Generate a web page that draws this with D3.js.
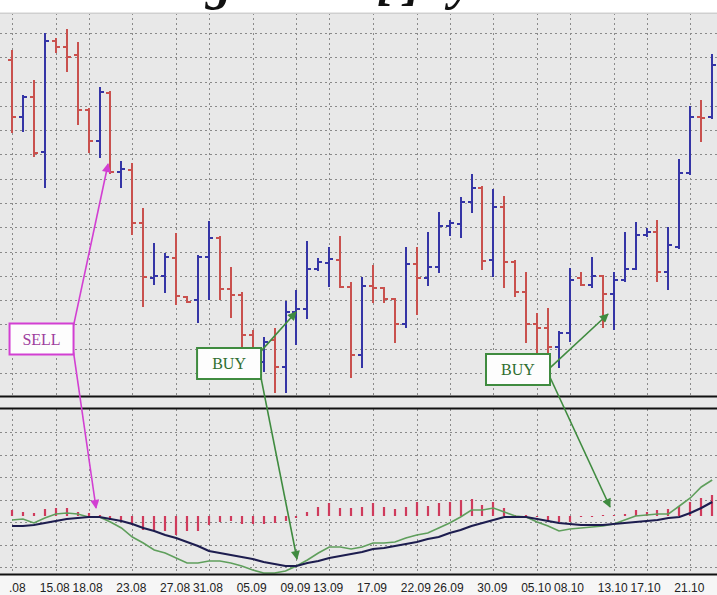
<!DOCTYPE html>
<html>
<head>
<meta charset="utf-8">
<script src="https://cdn.jsdelivr.net/npm/d3@7"></script>
<style>
  html, body { margin: 0; padding: 0; background: #fff; }
  svg { display: block; }
</style>
</head>
<body>
<div id="chart"></div>
<script>
// Daily bar chart with MACD-style indicator and SELL / BUY signals
const width = 717;
const height = 595;

// OHLC, one value per trading day
const opens  = [1.4446, 1.4332, 1.4372, 1.4262, 1.4484, 1.4472, 1.4456, 1.4346, 1.4284, 1.4380,
                1.4222, 1.4226, 1.4120, 1.4010, 1.4014, 1.4050, 1.3972, 1.3966, 1.4052, 1.4090,
                1.3988, 1.3976, 1.3896, 1.3842, 1.3886, 1.3832, 1.3942, 1.3948, 1.4028, 1.4040,
                1.4046, 1.3992, 1.3856, 1.3994, 1.3990, 1.3968, 1.3918, 1.4038, 1.4010, 1.4032,
                1.4114, 1.4118, 1.4162, 1.4190, 1.4046, 1.4152, 1.4042, 1.3982, 1.3918, 1.3910,
                1.3872, 1.3900, 1.4010, 1.3996, 1.4014, 1.3978, 1.4006, 1.4028, 1.4096, 1.4102,
                1.4022, 1.4072, 1.4220, 1.4332, 1.4332];
const highs  = [1.4466, 1.4376, 1.4406, 1.4500, 1.4490, 1.4508, 1.4482, 1.4350, 1.4392, 1.4384,
                1.4244, 1.4240, 1.4150, 1.4080, 1.4060, 1.4100, 1.3974, 1.4056, 1.4124, 1.4094,
                1.4032, 1.3982, 1.3906, 1.3892, 1.3910, 1.3964, 1.3986, 1.4084, 1.4050, 1.4072,
                1.4094, 1.4002, 1.4012, 1.4036, 1.3992, 1.3970, 1.4072, 1.4072, 1.4102, 1.4142,
                1.4126, 1.4172, 1.4218, 1.4194, 1.4188, 1.4174, 1.4046, 1.4022, 1.3940, 1.3950,
                1.3904, 1.4030, 1.4022, 1.4052, 1.4016, 1.4022, 1.4102, 1.4122, 1.4110, 1.4126,
                1.4112, 1.4248, 1.4354, 1.4366, 1.4458];
const lows   = [1.4300, 1.4302, 1.4252, 1.4190, 1.4460, 1.4422, 1.4316, 1.4260, 1.4250, 1.4218,
                1.4190, 1.4096, 1.3952, 1.3996, 1.3980, 1.3956, 1.3960, 1.3920, 1.3966, 1.3966,
                1.3930, 1.3872, 1.3822, 1.3822, 1.3780, 1.3780, 1.3876, 1.3928, 1.4024, 1.3992,
                1.3990, 1.3810, 1.3830, 1.3960, 1.3960, 1.3880, 1.3910, 1.3936, 1.3994, 1.4020,
                1.4094, 1.4090, 1.4140, 1.4026, 1.4012, 1.3990, 1.3972, 1.3880, 1.3860, 1.3852,
                1.3830, 1.3882, 1.3994, 1.3990, 1.3910, 1.3906, 1.4002, 1.4026, 1.4092, 1.4002,
                1.3986, 1.4068, 1.4216, 1.4282, 1.4328];
const closes = [1.4332, 1.4372, 1.4260, 1.4484, 1.4472, 1.4452, 1.4346, 1.4284, 1.4382, 1.4222,
                1.4228, 1.4120, 1.4012, 1.4014, 1.4052, 1.3974, 1.3962, 1.4052, 1.4090, 1.3988,
                1.3976, 1.3896, 1.3866, 1.3882, 1.3832, 1.3942, 1.3948, 1.4028, 1.4042, 1.4048,
                1.3992, 1.3856, 1.3994, 1.3990, 1.3968, 1.3918, 1.4038, 1.4010, 1.4032, 1.4114,
                1.4120, 1.4162, 1.4190, 1.4044, 1.4152, 1.4042, 1.3982, 1.3918, 1.3910, 1.3872,
                1.3900, 1.4006, 1.3996, 1.4014, 1.3978, 1.4006, 1.4028, 1.4096, 1.4102, 1.4022,
                1.4076, 1.4220, 1.4332, 1.4330, 1.4436];

// indicator panel: histogram, slow (navy) and fast (green) lines
const histogram = [0.0006, 0.0004, 0.0003, 0.0007, 0.0008, 0.0008, 0.0004, 0.0003, 0.0001, -0.0004,
                   -0.0006, -0.0009, -0.0014, -0.0015, -0.0015, -0.0019, -0.0015, -0.0015, -0.0009, -0.0006,
                   -0.0005, -0.0008, -0.0008, -0.0008, -0.0007, -0.0005, -0.0002, 0.0004, 0.0009, 0.0013,
                   0.0008, 0.0008, 0.0009, 0.0013, 0.0009, 0.0007, 0.0009, 0.0014, 0.0010, 0.0013,
                   0.0014, 0.0016, 0.0017, 0.0011, 0.0014, 0.0008, 0.0001, 0.0001, -0.0001, -0.0005,
                   -0.0006, -0.0006, -0.0001, -0.0001, 0.0001, 0.0001, 0.0002, 0.0006, 0.0004, 0.0006,
                   0.0007, 0.0010, 0.0014, 0.0018, 0.0021];
const slowLine  = [-0.0010, -0.0010, -0.0009, -0.0007, -0.0005, -0.0003, -0.0002, -0.0001, -0.0001, -0.0003,
                   -0.0005, -0.0008, -0.0012, -0.0015, -0.0019, -0.0022, -0.0026, -0.0030, -0.0035, -0.0037,
                   -0.0039, -0.0041, -0.0043, -0.0046, -0.0048, -0.0050, -0.0050, -0.0047, -0.0045, -0.0042,
                   -0.0040, -0.0038, -0.0036, -0.0033, -0.0032, -0.0030, -0.0028, -0.0026, -0.0023, -0.0021,
                   -0.0017, -0.0014, -0.0010, -0.0007, -0.0004, -0.0001, -0.0001, -0.0001, -0.0003, -0.0005,
                   -0.0007, -0.0008, -0.0009, -0.0009, -0.0009, -0.0008, -0.0007, -0.0006, -0.0005, -0.0004,
                   -0.0002, -0.0001, 0.0003, 0.0008, 0.0014];
const fastLine  = [-0.0004, -0.0003, -0.0007, -0.0002, 0.0002, 0.0003, 0.0002, -0.0001, -0.0001, -0.0006,
                   -0.0012, -0.0021, -0.0027, -0.0034, -0.0037, -0.0042, -0.0047, -0.0047, -0.0045, -0.0045,
                   -0.0047, -0.0050, -0.0054, -0.0057, -0.0057, -0.0055, -0.0050, -0.0044, -0.0037, -0.0031,
                   -0.0031, -0.0033, -0.0031, -0.0027, -0.0027, -0.0026, -0.0022, -0.0019, -0.0017, -0.0012,
                   -0.0007, -0.0001, 0.0006, 0.0006, 0.0008, 0.0004, 0.0000, -0.0001, -0.0006, -0.0010,
                   -0.0015, -0.0013, -0.0012, -0.0011, -0.0010, -0.0008, -0.0004, 0.0000, 0.0001, 0.0002,
                   0.0002, 0.0010, 0.0018, 0.0029, 0.0036];

// date labels and the bar they sit on
const labelIdx  = [0, 4, 7, 11, 15, 18, 22, 26, 29, 33, 37, 40, 44, 48, 51, 55, 58, 62];
const labelText = ['11.08', '15.08', '18.08', '23.08', '27.08', '31.08', '05.09', '09.09', '13.09',
                   '17.09', '22.09', '26.09', '30.09', '05.10', '08.10', '13.10', '17.10', '21.10'];

// signals: box anchor and the two arrow tips (price panel, indicator panel)
const signalText      = ['SELL', 'BUY', 'BUY'];
const signalBoxIdx    = [2.7, 19.84, 46.25];
const signalBoxPrice  = [1.3888, 1.3839, 1.3827];
const signalPriceIdx  = [8.78, 25.96, 54.48];
const signalPriceTip  = [1.4238, 1.3942, 1.3938];
const signalMacdIdx   = [7.68, 26.05, 54.66];
const signalMacdTip   = [0.0008, -0.0043, 0.0009];

const n = opens.length;
const colors = { up: '#3535a6', down: '#c9514e', hist: '#cf3b5c', slow: '#1d1d4f', fast: '#5f9f5c',
                 sell: '#d23fd2', sellText: '#9e3d9e', buy: '#3f8b3f', buyText: '#2f6e2f' };

function drawChart() {
    const svg = d3.select('#chart')
        .append('svg')
        .attr('width', width)
        .attr('height', height)
        .attr('viewBox', `0 0 ${width} ${height}`);

    const x = d3.scaleLinear().domain([0, n - 1]).range([12, 712.2]);
    const yPrice = d3.scaleLinear().domain([1.3774, 1.4540]).range([396, 13]);
    const yMacd = d3.scaleLinear().domain([-0.0058, 0.0107]).range([574, 409]);

    // backgrounds
    svg.append('rect').attr('x', 0).attr('y', 12).attr('width', width).attr('height', 563).attr('fill', '#e8e8e8');
    svg.append('rect').attr('x', 0).attr('y', 575).attr('width', width).attr('height', 20).attr('fill', '#f6f6f6');

    // dotted grid (fixed pixel spacing, like the terminal draws it)
    const grid = svg.append('g')
        .attr('stroke', '#8a8a8a')
        .attr('stroke-width', 1)
        .attr('stroke-dasharray', '2,3');
    const priceRows = d3.range(15).map(k => 33 + k * 24.29);
    const macdRows = d3.range(7).map(k => 432 + k * 22.5);
    grid.selectAll('.hrow')
        .data(priceRows.concat(macdRows))
        .enter()
        .append('line')
        .attr('x1', 0).attr('x2', width)
        .attr('y1', d => Math.round(d) + 0.5)
        .attr('y2', d => Math.round(d) + 0.5);
    grid.selectAll('.vcol')
        .data(labelIdx)
        .enter()
        .append('line')
        .attr('x1', d => Math.round(x(d)) + 0.5)
        .attr('x2', d => Math.round(x(d)) + 0.5)
        .attr('y1', 13).attr('y2', 396);
    grid.selectAll('.vcol2')
        .data(labelIdx)
        .enter()
        .append('line')
        .attr('x1', d => Math.round(x(d)) + 0.5)
        .attr('x2', d => Math.round(x(d)) + 0.5)
        .attr('y1', 409).attr('y2', 574);
    svg.append('line').attr('x1', 0).attr('x2', width).attr('y1', 13.5).attr('y2', 13.5)
        .attr('stroke', '#cfcfcf');

    // OHLC bars
    svg.append('g')
        .selectAll('path')
        .data(d3.range(n))
        .enter()
        .append('path')
        .attr('d', i => {
            const xi = Math.round(x(i));
            return `M${xi},${yPrice(highs[i])}V${yPrice(lows[i])}` +
                   `M${xi - 4},${yPrice(opens[i])}H${xi}` +
                   `M${xi},${yPrice(closes[i])}H${xi + 4}`;
        })
        .attr('fill', 'none')
        .attr('stroke', i => closes[i] >= opens[i] ? colors.up : colors.down)
        .attr('stroke-width', 2);

    // histogram
    svg.append('g')
        .selectAll('line')
        .data(d3.range(n))
        .enter()
        .append('line')
        .attr('x1', i => Math.round(x(i)))
        .attr('x2', i => Math.round(x(i)))
        .attr('y1', yMacd(0))
        .attr('y2', i => yMacd(histogram[i]))
        .attr('stroke', colors.hist)
        .attr('stroke-width', 2.2);

    // indicator lines
    const line = d3.line().x((d, i) => x(i)).y(d => yMacd(d)).curve(d3.curveLinear);
    svg.append('path').datum(fastLine).attr('d', line)
        .attr('fill', 'none').attr('stroke', colors.fast).attr('stroke-width', 1.6);
    svg.append('path').datum(slowLine).attr('d', line)
        .attr('fill', 'none').attr('stroke', colors.slow).attr('stroke-width', 2.2);

    // panel borders
    [396.5, 408.5, 574.5].forEach(yy => {
        svg.append('line').attr('x1', 0).attr('x2', width).attr('y1', yy).attr('y2', yy)
            .attr('stroke', '#111').attr('stroke-width', 2);
    });

    // arrow heads
    const defs = svg.append('defs');
    [['sell', colors.sell], ['buy', colors.buy]].forEach(([key, col]) => {
        defs.append('marker')
            .attr('id', `head-${key}`)
            .attr('viewBox', '0 0 10 10')
            .attr('refX', 9).attr('refY', 5)
            .attr('markerUnits', 'userSpaceOnUse')
            .attr('markerWidth', 10).attr('markerHeight', 9)
            .attr('orient', 'auto')
            .append('path')
            .attr('d', 'M0,0L10,5L0,10z')
            .attr('fill', col);
    });
    defs.append('clipPath').attr('id', 'label-clip')
        .append('rect').attr('x', 9).attr('y', 575).attr('width', width).attr('height', 20);

    // signal boxes with arrows
    const boxW = 64, boxH = 31;
    const startUpper = [0.07, 0.1, 0.45];
    const startLower = [0.93, 0.97, 0.75];
    signalText.forEach((label, k) => {
        const isSell = label === 'SELL';
        const col = isSell ? colors.sell : colors.buy;
        const key = isSell ? 'sell' : 'buy';
        const cx = x(signalBoxIdx[k]);
        const cy = yPrice(signalBoxPrice[k]);
        const left = cx - boxW / 2, top = cy - boxH / 2;

        const arrows = [
            [left + boxW, top + boxH * startUpper[k], x(signalPriceIdx[k]), yPrice(signalPriceTip[k])],
            [left + boxW, top + boxH * startLower[k], x(signalMacdIdx[k]), yMacd(signalMacdTip[k])]
        ];
        arrows.forEach(a => {
            svg.append('line')
                .attr('x1', a[0]).attr('y1', a[1])
                .attr('x2', a[2]).attr('y2', a[3])
                .attr('stroke', col)
                .attr('stroke-width', 1.6)
                .attr('marker-end', `url(#head-${key})`);
        });

        svg.append('rect')
            .attr('x', left).attr('y', top)
            .attr('width', boxW).attr('height', boxH)
            .attr('fill', '#fdfdfd')
            .attr('stroke', col)
            .attr('stroke-width', 2);
        svg.append('text')
            .attr('x', cx).attr('y', cy + 5.5)
            .attr('text-anchor', 'middle')
            .attr('fill', isSell ? colors.sellText : colors.buyText)
            .style('font-family', '"Liberation Serif", serif')
            .style('font-size', '16px')
            .text(label);
    });

    // date labels (the first one runs off the left edge)
    svg.append('g')
        .attr('clip-path', 'url(#label-clip)')
        .selectAll('text')
        .data(labelIdx)
        .enter()
        .append('text')
        .attr('x', d => x(d) - 1)
        .attr('y', 592)
        .attr('text-anchor', 'middle')
        .attr('fill', '#222')
        .style('font-family', '"Liberation Sans", Arial, sans-serif')
        .style('font-size', '12px')
        .text((d, i) => labelText[i]);

    // big title above, only its descenders reach into the picture
    const title = svg.append('g')
        .attr('fill', '#111')
        .style('font-family', '"Liberation Serif", serif')
        .style('font-weight', 'bold')
        .style('font-style', 'italic')
        .style('font-size', '52px');
    title.append('text').attr('x', 232).attr('y', -1.5).attr('text-anchor', 'end').text('Trading');
    title.append('text').attr('x', 377).attr('y', -1.5).style('letter-spacing', '-8px').text('[1]');
    title.append('text').attr('x', 424).attr('y', -1.5).text('by');
}

drawChart();
</script>
</body>
</html>
